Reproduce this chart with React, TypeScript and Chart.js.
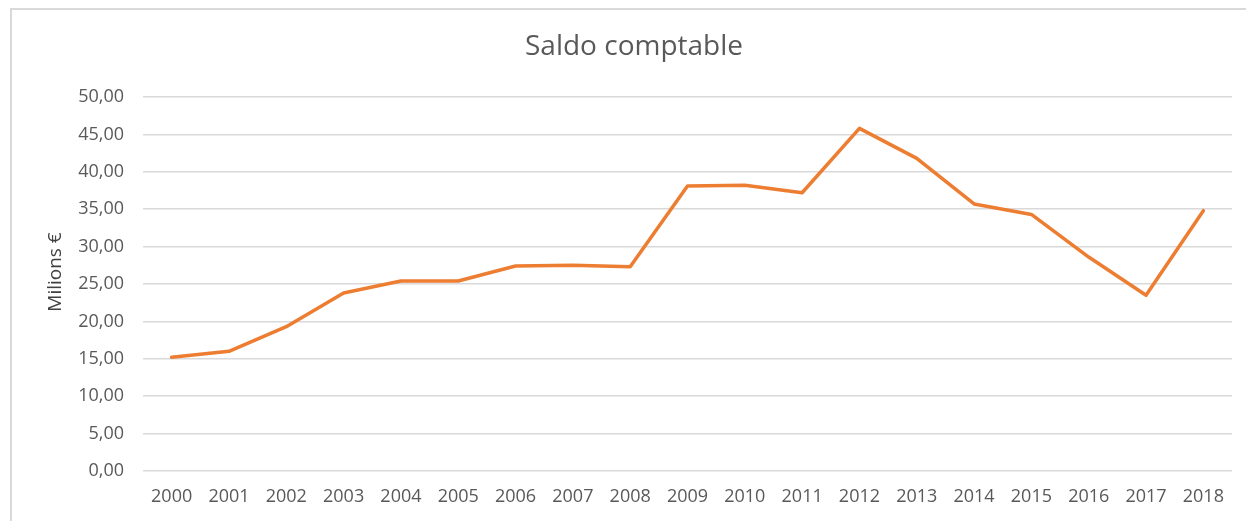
import React, { useEffect, useRef } from "react";
import { Chart, registerables } from "chart.js";

Chart.register(...registerables);

const years = ["2000","2001","2002","2003","2004","2005","2006","2007","2008","2009","2010","2011","2012","2013","2014","2015","2016","2017","2018"];
const saldo = [15.2, 16.0, 19.3, 23.8, 25.4, 25.4, 27.4, 27.5, 27.3, 38.1, 38.2, 37.2, 45.8, 41.8, 35.7, 34.3, 28.6, 23.5, 34.8];
const chartTitle = "Saldo comptable";
const yTitle = "Milions €";

const FONT = "'Open Sans', 'Noto Sans', sans-serif";
const GREY = "#595959";

const yTitlePlugin = {
  id: "yTitlePlugin",
  afterDraw(chart: any) {
    const ctx = chart.ctx;
    ctx.save();
    ctx.translate(56, 272);
    ctx.rotate(-Math.PI / 2);
    ctx.fillStyle = "#404040";
    ctx.font = `19px ${FONT}`;
    ctx.textAlign = "center";
    ctx.textBaseline = "middle";
    ctx.fillText(yTitle, 0, 0);
    ctx.restore();
  },
};

export default function App() {
  const ref = useRef<HTMLCanvasElement | null>(null);
  useEffect(() => {
    if (!ref.current) return;
    const chart = new Chart(ref.current, {
      type: "line",
      data: {
        labels: years,
        datasets: [
          {
            data: saldo,
            borderColor: "#ED7D31",
            backgroundColor: "#ED7D31",
            borderWidth: 3.5,
            pointRadius: 0,
            tension: 0,
            borderJoinStyle: "round",
            borderCapStyle: "round",
          },
        ],
      },
      plugins: [yTitlePlugin],
      options: {
        animation: false,
        responsive: false,
        devicePixelRatio: 1,
        layout: { padding: { left: 36, right: 14, top: 0, bottom: 0 } },
        plugins: {
          legend: { display: false },
          tooltip: { enabled: false },
          title: {
            display: true,
            text: chartTitle,
            color: GREY,
            font: { family: FONT, size: 28, weight: "normal", lineHeight: 1.2 },
            padding: { top: 30, bottom: 33.4 },
          },
        },
        scales: {
          x: {
            offset: true,
            grid: { display: false, drawTicks: false },
            border: { display: false },
            ticks: {
              color: GREY,
              font: { family: FONT, size: 18 },
              padding: 15,
              maxRotation: 0,
              autoSkip: false,
            },
            afterFit: (scale: any) => {
              scale.height = 50;
            },
          },
          y: {
            min: 0,
            max: 50,
            ticks: {
              stepSize: 5,
              color: GREY,
              font: { family: FONT, size: 18 },
              padding: 19,
              callback: (v: any) => Number(v).toFixed(2).replace(".", ","),
            },
            grid: { color: "#d9d9d9", lineWidth: 1.5, drawTicks: false },
            border: { display: false },
            afterFit: (scale: any) => {
              scale.width = 107;
            },
          },
        },
      },
    });
    return () => chart.destroy();
  }, []);

  return (
    <div style={{ position: "absolute", left: 0, top: 0, width: 1246, height: 521, overflow: "hidden", background: "#fff" }}>
      <div
        style={{
          position: "absolute",
          left: 10,
          top: 8,
          width: 1300,
          height: 600,
          borderLeft: "2px solid #d9d9d9",
          borderTop: "2px solid #d9d9d9",
        }}
      />
      <canvas
        ref={ref}
        width={1246}
        height={521}
        style={{ position: "absolute", left: 0, top: 0, width: 1246, height: 521 }}
      />
    </div>
  );
}
